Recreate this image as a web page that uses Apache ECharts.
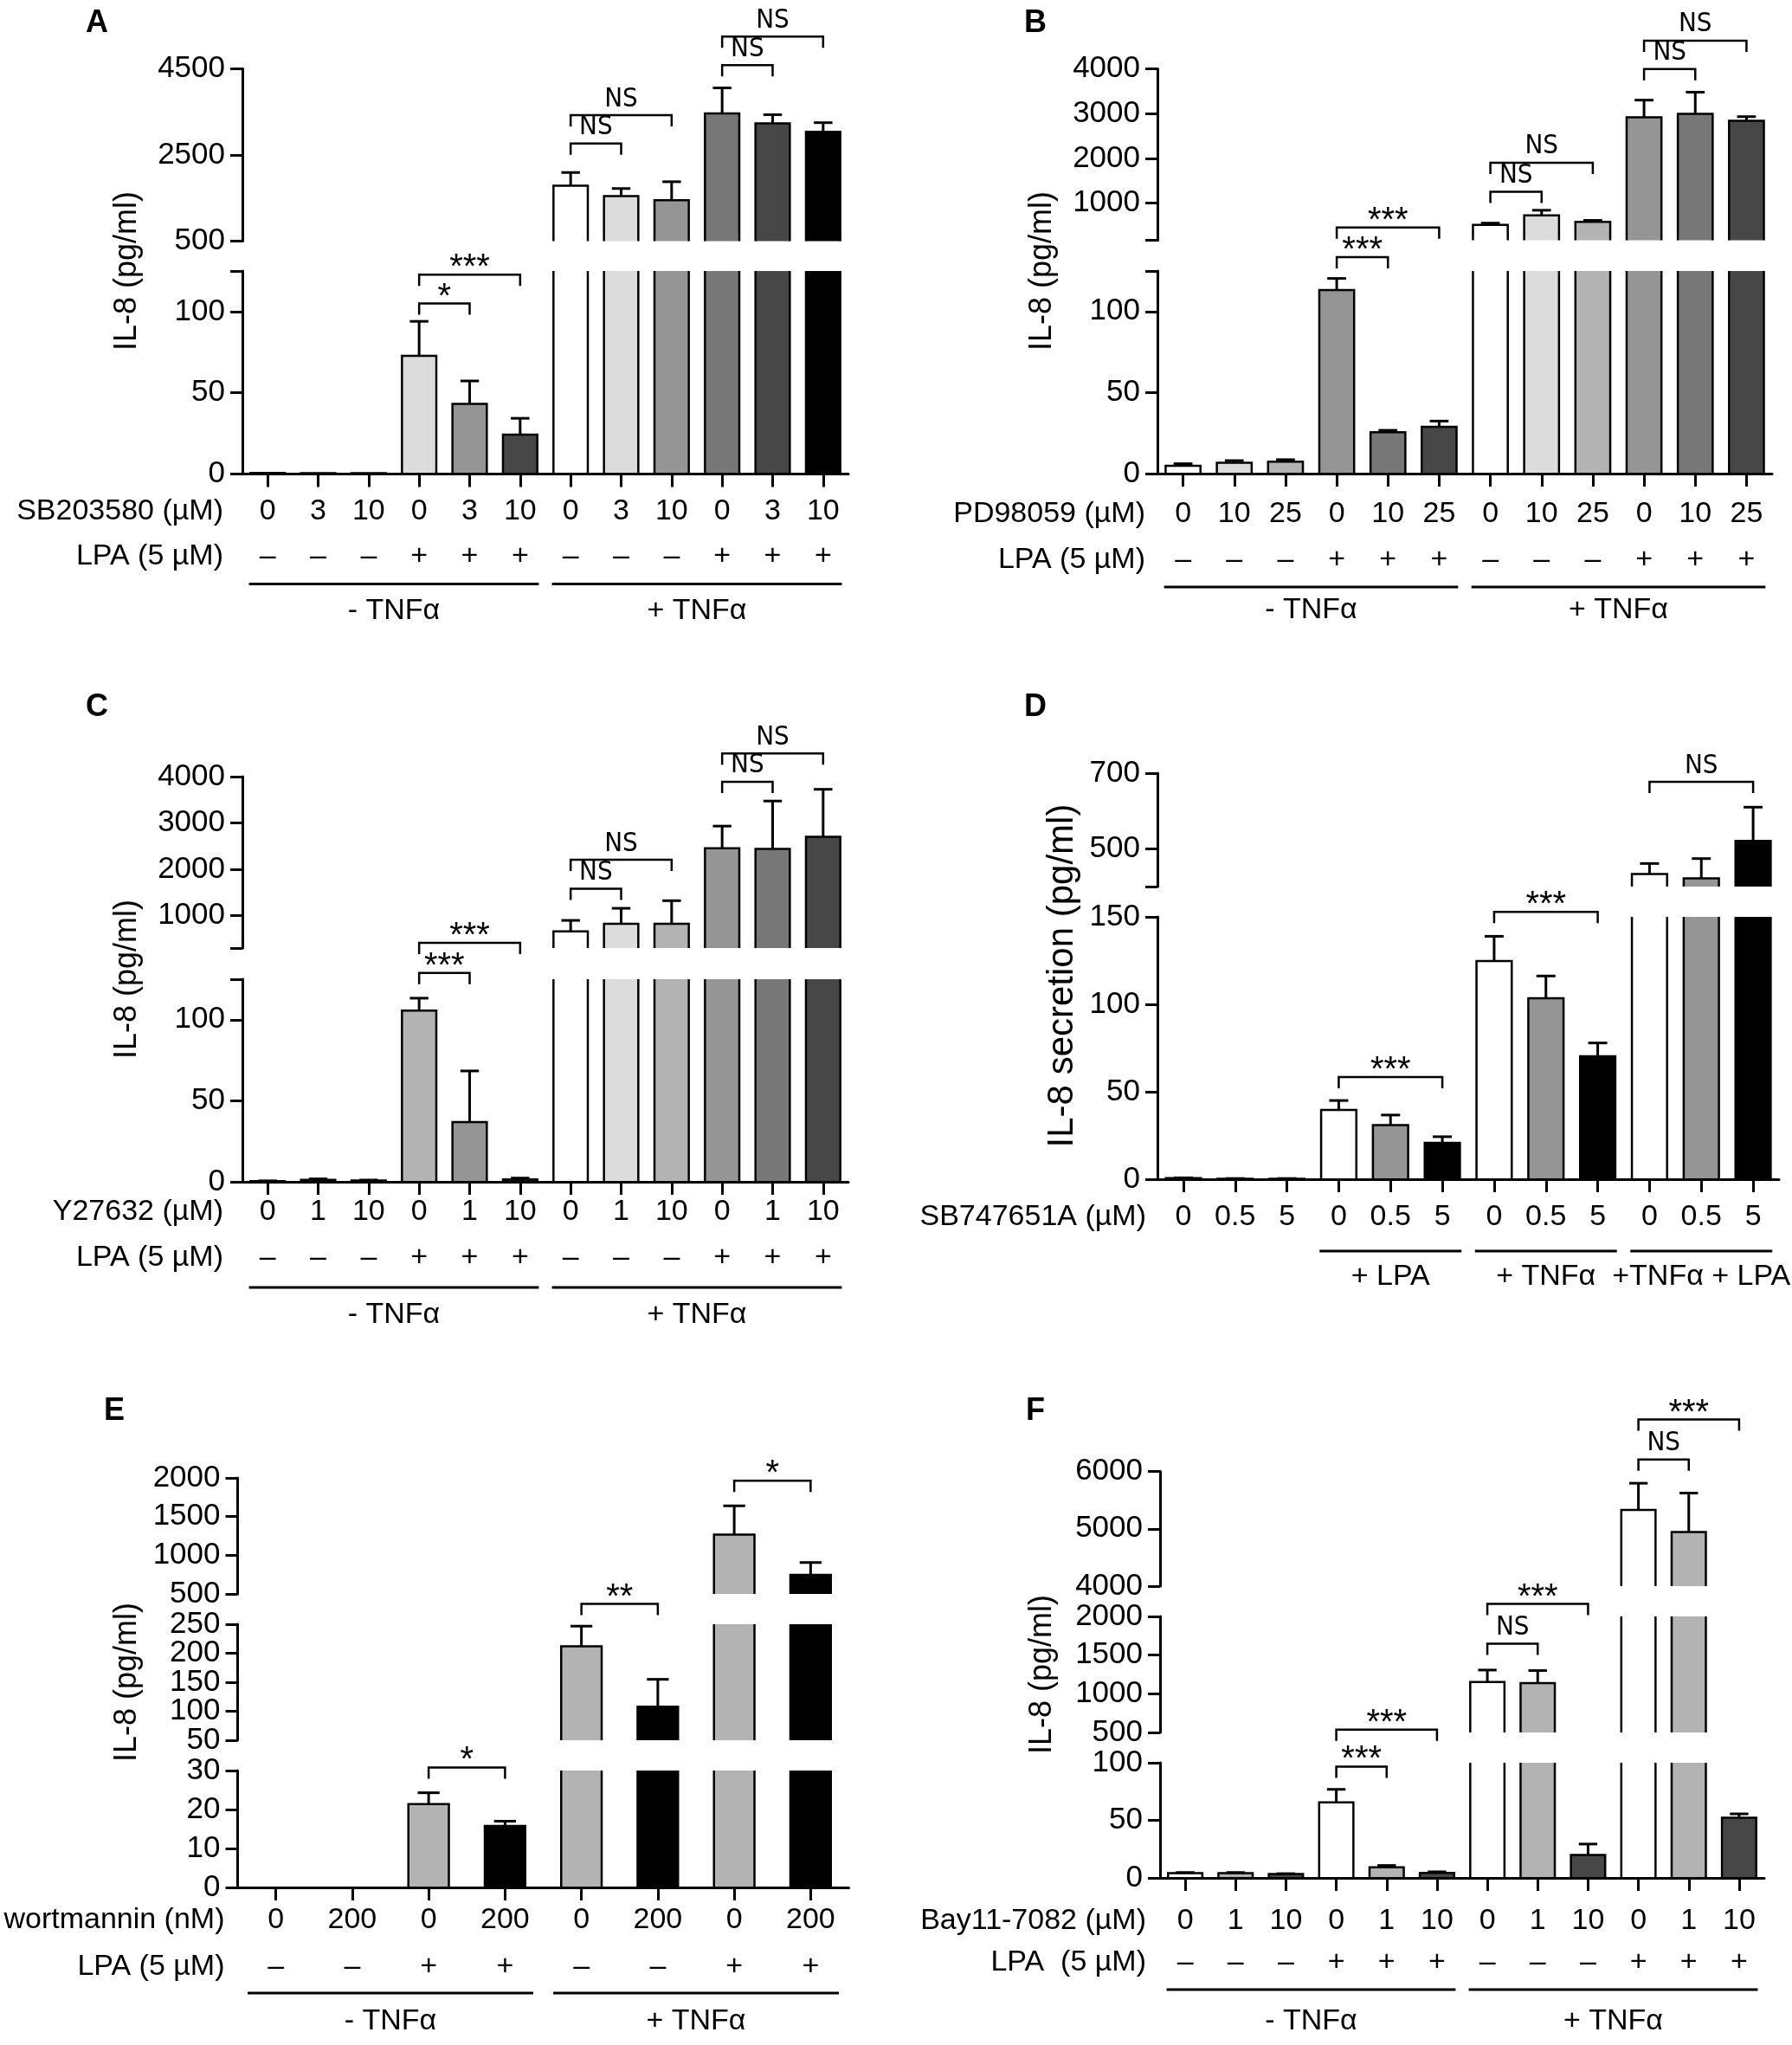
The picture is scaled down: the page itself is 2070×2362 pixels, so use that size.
<!DOCTYPE html>
<html>
<head>
<meta charset="utf-8">
<script src="https://cdn.jsdelivr.net/npm/echarts@6/dist/echarts.min.js"></script>
<style>
  html, body { margin: 0; padding: 0; background: #fff; }
  #main { width: 2070px; height: 2362px; }
</style>
</head>
<body>
<div id="main"></div>
<script>
// ---------- data: panel A ----------
var doseA = ['0', '3', '10', '0', '3', '10', '0', '3', '10', '0', '3', '10'];
var lpaA = ['–', '–', '–', '+', '+', '+', '–', '–', '–', '+', '+', '+'];
var meanA = [0.6, 0.5, 0.5, 72.8, 43.2, 24.2, 1786, 1543, 1450, 3464, 3236, 3036];
var errA = [0, 0, 0, 21.2, 14.1, 10.1, 307, 178, 429, 593, 200, 214];
var sigA = [[3, 4, 105], [3, 5, 122.7], [6, 7, 2767], [6, 8, 3423], [9, 10, 4586], [9, 11, 5249]];
var sigLabelA = ['*', '***', 'NS', 'NS', 'NS', 'NS'];
var yRangeA = [[0, 125], [500, 4500]];
var yTicksA = [[0, 50, 100, 125], [500, 2500, 4500]];
var yLabelsA = [[0, 50, 100], [500, 2500, 4500]];

// ---------- data: panel B ----------
var doseB = ['0', '10', '25', '0', '10', '25', '0', '10', '25', '0', '10', '25'];
var lpaB = lpaA;
var meanB = [4.8, 6.7, 7.4, 113.3, 25.5, 28.8, 514, 726, 582, 2918, 2993, 2842];
var errB = [1.3, 1.3, 1.2, 7.1, 1.2, 3.6, 41, 116, 34, 383, 486, 90];
var sigB = [[3, 4, 133.5], [3, 5, 459], [6, 7, 1253], [6, 8, 1904], [9, 10, 3993], [9, 11, 4630]];
var sigLabelB = ['***', '***', 'NS', 'NS', 'NS', 'NS'];
var yRangeB = [[0, 125], [170, 4000]];
var yTicksB = [[0, 50, 100, 125], [170, 1000, 2000, 3000, 4000]];
var yLabelsB = [[0, 50, 100], [1000, 2000, 3000, 4000]];

// ---------- data: panel C ----------
var doseC = ['0', '1', '10', '0', '1', '10', '0', '1', '10', '0', '1', '10'];
var lpaC = lpaA;
var meanC = [0.4, 1.2, 0.8, 105.7, 36.9, 1.5, 658, 822, 822, 2452, 2438, 2699];
var errC = [0.2, 0.6, 0.3, 7.6, 31.5, 0.8, 239, 336, 500, 480, 1035, 1027];
var sigC = [[3, 4, 128.9], [3, 5, 411], [6, 7, 1582], [6, 8, 2205], [9, 10, 3890], [9, 11, 4500]];
var sigLabelC = ['***', '***', 'NS', 'NS', 'NS', 'NS'];
var yRangeC = [[0, 125], [300, 4000]];
var yTicksC = [[0, 50, 100, 125], [300, 1000, 2000, 3000, 4000]];
var yLabelsC = [[0, 50, 100], [1000, 2000, 3000, 4000]];

// ---------- data: panel D ----------
var doseD = ['0', '0.5', '5', '0', '0.5', '5', '0', '0.5', '5', '0', '0.5', '5'];
var meanD = [0.6, 0.3, 0.3, 39.6, 31, 20.8, 124.8, 103.5, 70.3, 433, 422, 521];
var errD = [0.2, 0.1, 0.1, 5.4, 5.7, 3.5, 14.1, 12.7, 7.6, 28, 52, 89];
var sigD = [[3, 5, 58.4], [6, 8, 152.9], [9, 11, 677]];
var sigLabelD = ['***', '***', 'NS'];
var yRangeD = [[0, 150], [400, 700]];
var yTicksD = [[0, 50, 100, 150], [400, 500, 700]];
var yLabelsD = [[0, 50, 100, 150], [500, 700]];

// ---------- data: panel E ----------
var doseE = ['0', '200', '0', '200', '0', '200', '0', '200'];
var lpaE = ['–', '–', '+', '+', '–', '–', '+', '+'];
var meanE = [0, 0, 21.4, 15.8, 212, 107.7, 1266, 746];
var errE = [0, 0, 2.9, 1.2, 34.7, 47.3, 373, 160];
var sigE = [[2, 3, 30.8], [4, 5, 285], [6, 7, 1963]];
var sigLabelE = ['*', '**', '*'];
var yRangeE = [[0, 30], [50, 250], [500, 2000]];
var yTicksE = [[0, 10, 20, 30], [50, 100, 150, 200, 250], [500, 1000, 1500, 2000]];
var yLabelsE = yTicksE;

// ---------- data: panel F ----------
var doseF = ['0', '1', '10', '0', '1', '10', '0', '1', '10', '0', '1', '10'];
var lpaF = lpaA;
var meanF = [4.2, 4.2, 3.3, 65.6, 9.2, 4.4, 1151, 1138, 20, 5328, 4944, 52.2];
var errF = [0.5, 0.5, 0.4, 11.3, 1.6, 0.9, 156, 162, 9.4, 466, 678, 3.4];
var sigF = [[3, 4, 96.7], [3, 5, 537], [6, 7, 1648], [6, 8, 2162], [9, 10, 6206], [9, 11, 6906]];
var sigLabelF = ['***', '***', 'NS', '***', 'NS', '***'];
var yRangeF = [[0, 100], [500, 2000], [4000, 6000]];
var yTicksF = [[0, 50, 100], [500, 1000, 1500, 2000], [4000, 5000, 6000]];
var yLabelsF = yTicksF;

// ---------- bar fills ----------
var colorsA = ['#ffffff', '#dcdcdc', '#959595', '#dcdcdc', '#959595', '#474747',
               '#ffffff', '#dcdcdc', '#959595', '#777777', '#474747', '#000000'];
var colorsB = ['#ffffff', '#dcdcdc', '#b3b3b3', '#959595', '#777777', '#474747',
               '#ffffff', '#dcdcdc', '#b3b3b3', '#959595', '#777777', '#474747'];
var colorsC = ['#ffffff', '#dcdcdc', '#b3b3b3', '#b3b3b3', '#959595', '#222222',
               '#ffffff', '#dcdcdc', '#b3b3b3', '#959595', '#777777', '#474747'];
var colorsD = ['#ffffff', '#959595', '#000000', '#ffffff', '#959595', '#000000',
               '#ffffff', '#959595', '#000000', '#ffffff', '#959595', '#000000'];
var colorsE = ['#b3b3b3', '#000000', '#b3b3b3', '#000000', '#b3b3b3', '#000000', '#b3b3b3', '#000000'];
var colorsF = ['#ffffff', '#b3b3b3', '#474747', '#ffffff', '#b3b3b3', '#474747',
               '#ffffff', '#b3b3b3', '#474747', '#ffffff', '#b3b3b3', '#474747'];

var FONT = "'Liberation Sans', Arial, Helvetica, sans-serif";
var NARROW = "'Liberation Sans Narrow', 'Arial Narrow', 'DejaVu Sans Condensed', sans-serif";
var tnf = ['- TNFα', '+ TNFα'];

var panels = [
  { letter: 'A', letterPos: [112, 27], yName: 'IL-8 (pg/ml)', yNamePos: [147, 313], yNameSize: 36,
    left: 280, width: 700, boxes: [[313, 547.5], [79.5, 278.5]], barRatio: 0.68,
    dose: doseA, lpa: lpaA, mean: meanA, err: errA, colors: colorsA,
    ranges: yRangeA, yTicks: yTicksA, yLabels: yLabelsA, sig: sigA, sigLabels: sigLabelA,
    rowTitles: ['SB203580 (µM)', 'LPA (5 µM)'], titleGap: 22, rowOff: [43, 95], lineOff: 127, labelOff: 158,
    groups: [[0, 5], [6, 11]], groupLabels: tnf },
  { letter: 'B', letterPos: [1196, 27], yName: 'IL-8 (pg/ml)', yNamePos: [1204, 313], yNameSize: 36,
    left: 1337, width: 710, boxes: [[313, 547], [79.5, 277.6]], barRatio: 0.68,
    dose: doseB, lpa: lpaB, mean: meanB, err: errB, colors: colorsB,
    ranges: yRangeB, yTicks: yTicksB, yLabels: yLabelsB, sig: sigB, sigLabels: sigLabelB,
    rowTitles: ['PD98059 (µM)', 'LPA (5 µM)'], titleGap: 14, rowOff: [47, 100], lineOff: 131, labelOff: 158,
    groups: [[0, 5], [6, 11]], groupLabels: tnf },
  { letter: 'C', letterPos: [112, 817], yName: 'IL-8 (pg/ml)', yNamePos: [147, 1131], yNameSize: 36,
    left: 280, width: 700, boxes: [[1131, 1365], [897, 1095]], barRatio: 0.68,
    dose: doseC, lpa: lpaC, mean: meanC, err: errC, colors: colorsC,
    ranges: yRangeC, yTicks: yTicksC, yLabels: yLabelsC, sig: sigC, sigLabels: sigLabelC,
    rowTitles: ['Y27632 (µM)', 'LPA (5 µM)'], titleGap: 22, rowOff: [35, 88], lineOff: 122, labelOff: 154,
    groups: [[0, 5], [6, 11]], groupLabels: tnf },
  { letter: 'D', letterPos: [1196, 817], yName: 'IL-8 secretion (pg/ml)', yNamePos: [1227, 1127], yNameSize: 42,
    left: 1337, width: 718, boxes: [[1059, 1362], [893, 1024]], barRatio: 0.68,
    dose: doseD, lpa: null, mean: meanD, err: errD, colors: colorsD,
    ranges: yRangeD, yTicks: yTicksD, yLabels: yLabelsD, sig: sigD, sigLabels: sigLabelD,
    rowTitles: ['SB747651A (µM)'], titleGap: 13, rowOff: [44], lineOff: 83, labelOff: 113,
    groups: [[3, 5], [6, 8], [9, 11]], groupLabels: ['+ LPA', '+ TNFα', '+TNFα + LPA'] },
  { letter: 'E', letterPos: [132, 1630], yName: 'IL-8 (pg/ml)', yNamePos: [147, 1943], yNameSize: 36,
    left: 274.5, width: 706, boxes: [[2045, 2180], [1876, 2010], [1707, 1841]], barRatio: 0.53,
    dose: doseE, lpa: lpaE, mean: meanE, err: errE, colors: colorsE,
    ranges: yRangeE, yTicks: yTicksE, yLabels: yLabelsE, sig: sigE, sigLabels: sigLabelE,
    rowTitles: ['wortmannin (nM)', 'LPA (5 µM)'], titleGap: 15, rowOff: [38, 92], lineOff: 122, labelOff: 155,
    groups: [[0, 3], [4, 7]], groupLabels: tnf },
  { letter: 'F', letterPos: [1196, 1630], yName: 'IL-8 (pg/ml)', yNamePos: [1204, 1934], yNameSize: 36,
    left: 1340, width: 698, boxes: [[2036, 2169], [1867, 2001], [1699.5, 1832]], barRatio: 0.68,
    dose: doseF, lpa: lpaF, mean: meanF, err: errF, colors: colorsF,
    ranges: yRangeF, yTicks: yTicksF, yLabels: yLabelsF, sig: sigF, sigLabels: sigLabelF,
    rowTitles: ['Bay11-7082 (µM)', 'LPA  (5 µM)'], titleGap: 16, rowOff: [50, 98], lineOff: 129, labelOff: 166,
    groups: [[0, 5], [6, 11]], groupLabels: tnf }
];

function txt(x, y, s, align, size, family, weight, va) {
  va = va || 'middle';
  return {
    type: 'text', x: x, y: y,
    style: {
      text: s, fill: '#000', fontSize: size || 34, fontFamily: family || FONT,
      fontWeight: weight || 'normal', align: align, verticalAlign: va,
      textAlign: align, textVerticalAlign: va
    }
  };
}

function drawBar(params, api, p, r) {
  var i = api.value(0), v = api.value(1), e = api.value(2);
  if (!(v > r[0])) return null;
  var w = api.size([1, 0])[0] * p.barRatio;
  var base = api.coord([i, r[0]]);
  var top = api.coord([i, Math.min(v, r[1])]);
  var x0 = base[0] - w / 2, x1 = base[0] + w / 2;
  var line = { stroke: '#000', lineWidth: 2.5, fill: null };
  var kids = [{ type: 'rect', shape: { x: x0, y: top[1], width: w, height: base[1] - top[1] },
                style: { fill: p.colors[params.dataIndex] } }];
  if (v <= r[1]) {
    kids.push({ type: 'polyline', shape: { points: [[x0, base[1]], [x0, top[1]], [x1, top[1]], [x1, base[1]]] }, style: line });
    if (e > 0) {
      var et = api.coord([i, v + e])[1];
      var cw = w * 0.27;
      kids.push({ type: 'line', shape: { x1: base[0], y1: top[1], x2: base[0], y2: et }, style: { stroke: '#000', lineWidth: 3 } });
      kids.push({ type: 'line', shape: { x1: base[0] - cw, y1: et, x2: base[0] + cw, y2: et }, style: { stroke: '#000', lineWidth: 3 } });
    }
  } else {
    kids.push({ type: 'line', shape: { x1: x0, y1: base[1], x2: x0, y2: top[1] }, style: line });
    kids.push({ type: 'line', shape: { x1: x1, y1: base[1], x2: x1, y2: top[1] }, style: line });
  }
  return { type: 'group', children: kids };
}

var option = {
  animation: false,
  backgroundColor: '#ffffff',
  grid: [], xAxis: [], yAxis: [], series: [],
  graphic: { elements: [] }
};

function yLabelStyle(values) {
  return { customValues: values, color: '#000', fontSize: 35, lineHeight: 26,
           fontFamily: FONT, margin: 20,
           showMinLabel: true, showMaxLabel: true, hideOverlap: false,
           formatter: function (v) { return String(v); } };
}

function addPanel(p) {
  var segGrid = [];
  var segSig = p.ranges.map(function () { return []; });
  p.sig.forEach(function (s, k) {
    var seg = 0;
    p.ranges.forEach(function (r, j) { if (r[0] <= s[2]) seg = j; });
    segSig[seg].push([s[0], s[1], s[2], k]);
  });

  p.ranges.forEach(function (r, k) {
    var gi = option.grid.length;
    var box = p.boxes[k];
    var isBase = k === 0;
    var labels = p.yLabels[k];
    var gridOpt = { left: p.left, width: p.width, top: box[0], height: box[1] - box[0],
                    containLabel: false, outerBoundsMode: 'none' };
    // tightly packed labels: split them over two stacked axes so none is dropped
    var step = labels.length > 1 ? (labels[1] - labels[0]) * (box[1] - box[0]) / (r[1] - r[0]) : 99;
    var mainLabels = labels, extraLabels = null;
    if (step < 40) {
      mainLabels = labels.filter(function (v, j) { return j % 2 === 0; });
      extraLabels = labels.filter(function (v, j) { return j % 2 === 1; });
    }
    segGrid.push(gi);
    option.grid.push(gridOpt);
    option.xAxis.push({
      type: 'category', gridIndex: gi, data: p.dose, boundaryGap: true, show: isBase, z: 10,
      axisLine: { show: isBase, onZero: false, lineStyle: { color: '#000', width: 3 } },
      axisTick: { show: isBase, alignWithLabel: true, length: 15, lineStyle: { color: '#000', width: 3 } },
      axisLabel: { show: false }, splitLine: { show: false }
    });
    option.yAxis.push({
      type: 'value', gridIndex: gi, min: r[0], max: r[1], z: 10,
      axisLine: { show: true, lineStyle: { color: '#000', width: 3 } },
      axisTick: { show: true, length: 14, customValues: p.yTicks[k], lineStyle: { color: '#000', width: 3 } },
      axisLabel: yLabelStyle(mainLabels),
      splitLine: { show: false }
    });
    option.series.push({
      type: 'custom', xAxisIndex: gi, yAxisIndex: gi, clip: false, z: 2,
      data: p.mean.map(function (v, i) { return [i, v, p.err[i]]; }),
      renderItem: function (params, api) { return drawBar(params, api, p, r); }
    });
    if (extraLabels) {
      var gx = option.grid.length;
      option.grid.push(Object.assign({}, gridOpt));
      option.xAxis.push({ type: 'category', gridIndex: gx, data: p.dose, show: false });
      option.yAxis.push({
        type: 'value', gridIndex: gx, min: r[0], max: r[1], z: 10,
        axisLine: { show: false }, axisTick: { show: false }, splitLine: { show: false },
        axisLabel: yLabelStyle(extraLabels)
      });
    }
    if (segSig[k].length) {
      option.series.push({
        type: 'custom', xAxisIndex: gi, yAxisIndex: gi, clip: false, z: 3,
        data: segSig[k],
        renderItem: function (params, api) {
          var a = api.coord([api.value(0), api.value(2)]);
          var b = api.coord([api.value(1), api.value(2)]);
          var lab = p.sigLabels[api.value(3)];
          var leg = 13;
          var isNS = lab.indexOf('N') >= 0;
          var t = isNS
            ? txt((a[0] + b[0]) / 2, a[1] - 3, lab, 'center', 31, NARROW, 'normal', 'bottom')
            : txt((a[0] + b[0]) / 2, a[1] - 7, lab, 'center', 40, FONT, 'normal', 'middle');
          return { type: 'group', children: [
            { type: 'polyline', shape: { points: [[a[0], a[1] + leg], [a[0], a[1]], [b[0], a[1]], [b[0], a[1] + leg]] },
              style: { stroke: '#000', lineWidth: 2.5, fill: null } },
            t
          ] };
        }
      });
    }
  });

  var g0 = segGrid[0], r0 = p.ranges[0];
  // dose / LPA rows and row titles
  option.series.push({
    type: 'custom', xAxisIndex: g0, yAxisIndex: g0, clip: false, z: 3,
    data: p.dose.map(function (d, i) { return [i, r0[0]]; }),
    renderItem: function (params, api) {
      var i = api.value(0);
      var pt = api.coord([i, r0[0]]);
      var sp = api.size([1, 0])[0];
      var kids = [txt(pt[0], pt[1] + p.rowOff[0], p.dose[i], 'center')];
      if (p.lpa) kids.push(txt(pt[0], pt[1] + p.rowOff[1], p.lpa[i], 'center'));
      if (i === 0) {
        var xr = pt[0] - sp / 2 - p.titleGap;
        p.rowTitles.forEach(function (t, k) { kids.push(txt(xr, pt[1] + p.rowOff[k], t, 'right')); });
      }
      return { type: 'group', children: kids };
    }
  });
  // treatment group lines
  option.series.push({
    type: 'custom', xAxisIndex: g0, yAxisIndex: g0, clip: false, z: 3,
    data: p.groups.map(function (g, k) { return [g[0], g[1], k]; }),
    renderItem: function (params, api) {
      var a = api.coord([api.value(0), r0[0]]);
      var b = api.coord([api.value(1), r0[0]]);
      var sp = api.size([1, 0])[0];
      var y = a[1] + p.lineOff;
      return { type: 'group', children: [
        { type: 'line', shape: { x1: a[0] - 0.37 * sp, y1: y, x2: b[0] + 0.37 * sp, y2: y },
          style: { stroke: '#000', lineWidth: 3 } },
        txt((a[0] + b[0]) / 2, a[1] + p.labelOff, p.groupLabels[api.value(2)], 'center')
      ] };
    }
  });

  option.graphic.elements.push({
    type: 'text', x: p.letterPos[0], y: p.letterPos[1],
    style: { text: p.letter, fill: '#000', font: 'bold 36px ' + FONT,
             align: 'center', verticalAlign: 'middle', textAlign: 'center', textVerticalAlign: 'middle' }
  });
  option.graphic.elements.push({
    type: 'text', x: p.yNamePos[0], y: p.yNamePos[1], rotation: Math.PI / 2,
    style: { text: p.yName, fill: '#000', font: p.yNameSize + 'px ' + FONT,
             align: 'center', verticalAlign: 'middle', textAlign: 'center', textVerticalAlign: 'middle' }
  });
}

panels.forEach(addPanel);

var chart = echarts.init(document.getElementById('main'));
chart.setOption(option);
</script>
</body>
</html>
